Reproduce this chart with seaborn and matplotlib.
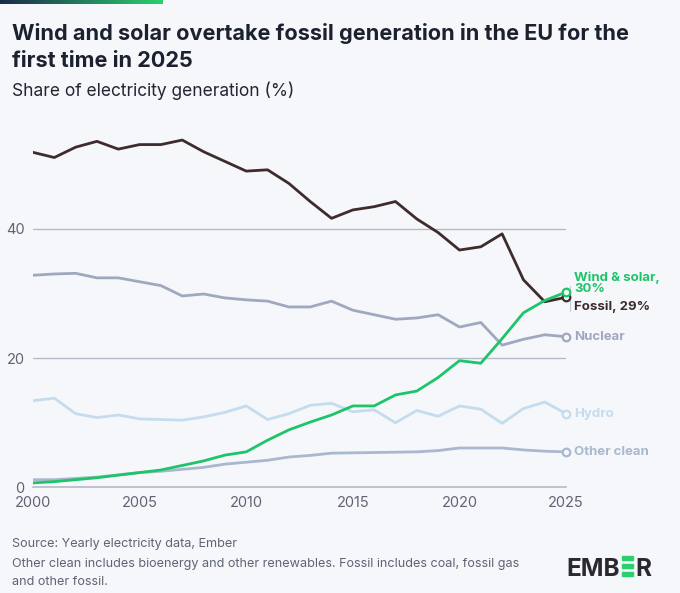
import pandas as pd
import seaborn as sns
import matplotlib.pyplot as plt
from matplotlib.patches import Rectangle
from matplotlib.colors import LinearSegmentedColormap
import numpy as np

anios = list(range(2000, 2026))
fosil = [51.8, 51.0, 52.6, 53.5, 52.3, 53.0, 53.0, 53.7, 51.9, 50.4, 48.9, 49.1, 47.0,
         44.2, 41.6, 42.9, 43.4, 44.2, 41.5, 39.4, 36.7, 37.2, 39.2, 32.1, 28.7, 29.4]
eolica_solar = [0.7, 0.9, 1.2, 1.5, 1.9, 2.3, 2.7, 3.4, 4.1, 5.0, 5.5, 7.3, 8.9,
                10.1, 11.2, 12.6, 12.6, 14.3, 14.9, 17.0, 19.6, 19.2, 23.0, 27.0, 28.9, 30.2]
nuclear = [32.8, 33.0, 33.1, 32.4, 32.4, 31.8, 31.2, 29.6, 29.9, 29.3, 29.0, 28.8, 27.9,
           27.9, 28.8, 27.4, 26.7, 26.0, 26.2, 26.7, 24.8, 25.5, 22.0, 22.9, 23.6, 23.3]
hidro = [13.4, 13.8, 11.4, 10.8, 11.2, 10.6, 10.5, 10.4, 10.9, 11.6, 12.6, 10.5, 11.4,
         12.7, 13.0, 11.7, 12.0, 10.0, 11.9, 11.0, 12.6, 12.1, 9.9, 12.2, 13.2, 11.4]
otras_limpias = [1.2, 1.2, 1.4, 1.6, 1.95, 2.3, 2.5, 2.8, 3.1, 3.6, 3.9, 4.2, 4.7,
                 4.95, 5.3, 5.35, 5.4, 5.45, 5.5, 5.7, 6.1, 6.1, 6.1, 5.8, 5.6, 5.5]

series = {
    "Other clean": otras_limpias,
    "Hydro": hidro,
    "Nuclear": nuclear,
    "Fossil": fosil,
    "Wind & solar": eolica_solar,
}
colores = {
    "Other clean": "#a9b8cf",
    "Hydro": "#c4dcee",
    "Nuclear": "#a0a8c0",
    "Fossil": "#3e2c2c",
    "Wind & solar": "#1ec46a",
}
etiquetas = {
    "Wind & solar": "Wind & solar,\n30%",
    "Fossil": "Fossil, 29%",
    "Nuclear": "Nuclear",
    "Hydro": "Hydro",
    "Other clean": "Other clean",
}

datos = pd.DataFrame(
    [(a, nombre, v) for nombre, vals in series.items() for a, v in zip(anios, vals)],
    columns=["anio", "fuente", "valor"],
)

fondo = "#f5f7fa"
sns.set_style("white")
plt.rcParams["font.family"] = ["Inter", "DejaVu Sans"]

fig = plt.figure(figsize=(6.8, 5.93), dpi=100, facecolor=fondo)
ax = fig.add_axes([0.0485, 0.178, 0.784, 0.600], facecolor=fondo)

sns.lineplot(data=datos, x="anio", y="valor", hue="fuente", palette=colores,
             linewidth=2.0, legend=False, ax=ax)

# Marcadores finales
for nombre, vals in series.items():
    ax.scatter([anios[-1]], [vals[-1]], s=30, facecolor=fondo, edgecolor=colores[nombre],
               linewidth=1.6, zorder=5, clip_on=False)

ax.set_xlim(2000, 2025)
ax.set_ylim(0, 55)
ax.set_xticks(range(2000, 2026, 5))
ax.set_yticks([0, 20, 40])
ax.set_xlabel("")
ax.set_ylabel("")
for y in [20, 40]:
    ax.axhline(y, color="#b5bac8", linewidth=1.0, zorder=0)
for lado in ["top", "right", "left"]:
    ax.spines[lado].set_visible(False)
ax.spines["bottom"].set_color("#b5bac8")
ax.spines["bottom"].set_linewidth(1.2)
ax.tick_params(axis="x", length=4, color="#b5bac8", labelsize=10.5, labelcolor="#5f6475", pad=2)
ax.tick_params(axis="y", length=0, labelsize=10.5, labelcolor="#5f6475", pad=6)

# Etiquetas a la derecha
pos_y = {"Wind & solar": 31.6, "Fossil": 28.0, "Nuclear": 23.3, "Hydro": 11.4, "Other clean": 5.5}
for nombre, y in pos_y.items():
    ax.annotate(etiquetas[nombre], xy=(anios[-1], y), xytext=(6, 0), textcoords="offset points",
                color=colores[nombre], fontsize=9.5, fontweight="bold", va="center",
                ha="left", linespacing=0.9, annotation_clip=False)
ax.plot([2025.2, 2025.2], [27.2, 31.2], color="#c8ccd6", linewidth=0.8, clip_on=False)

# Barra degradada superior
grad = LinearSegmentedColormap.from_list("g", ["#1b2a4a", "#2bd06e"])
barra = fig.add_axes([0.0, 1 - 4 / 593, 163 / 680, 4 / 593])
barra.imshow(np.linspace(0, 1, 200).reshape(1, -1), aspect="auto", cmap=grad)
barra.axis("off")

# Títulos
fig.text(12 / 680, 1 - 40 / 593, "Wind and solar overtake fossil generation in the EU for the",
         fontsize=15.6, fontweight="bold", color="#1c2130", va="baseline")
fig.text(12 / 680, 1 - 67 / 593, "first time in 2025",
         fontsize=15.6, fontweight="bold", color="#1c2130", va="baseline")
fig.text(12 / 680, 1 - 96 / 593, "Share of electricity generation (%)",
         fontsize=12.5, color="#222633", va="baseline")

# Pie
pie_color = "#5f6475"
fig.text(12 / 680, 1 - 547 / 593, "Source: Yearly electricity data, Ember",
         fontsize=9.1, color=pie_color, va="baseline")
fig.text(12 / 680, 1 - 567 / 593,
         "Other clean includes bioenergy and other renewables. Fossil includes coal, fossil gas",
         fontsize=9.1, color=pie_color, va="baseline")
fig.text(12 / 680, 1 - 585 / 593, "and other fossil.",
         fontsize=9.1, color=pie_color, va="baseline")

# Logo EMBER
logo_y = 1 - 576 / 593
t1 = fig.text(566 / 680, logo_y, "EMB", fontsize=17.5, fontweight="bold", color="#2a2a2e", va="baseline")
fig.canvas.draw()
bb = t1.get_window_extent()
x_e = bb.x1 / 680 + 2 / 680
for i in range(3):
    fig.patches.append(Rectangle((x_e, logo_y + i * 8.2 / 593), 11 / 680, 4 / 593,
                                 transform=fig.transFigure, color="#2bd06e", zorder=5))
fig.text(x_e + 14 / 680, logo_y, "R", fontsize=17.5, fontweight="bold", color="#2a2a2e", va="baseline")

plt.savefig("out.png", dpi=100, facecolor=fondo)
plt.close()
